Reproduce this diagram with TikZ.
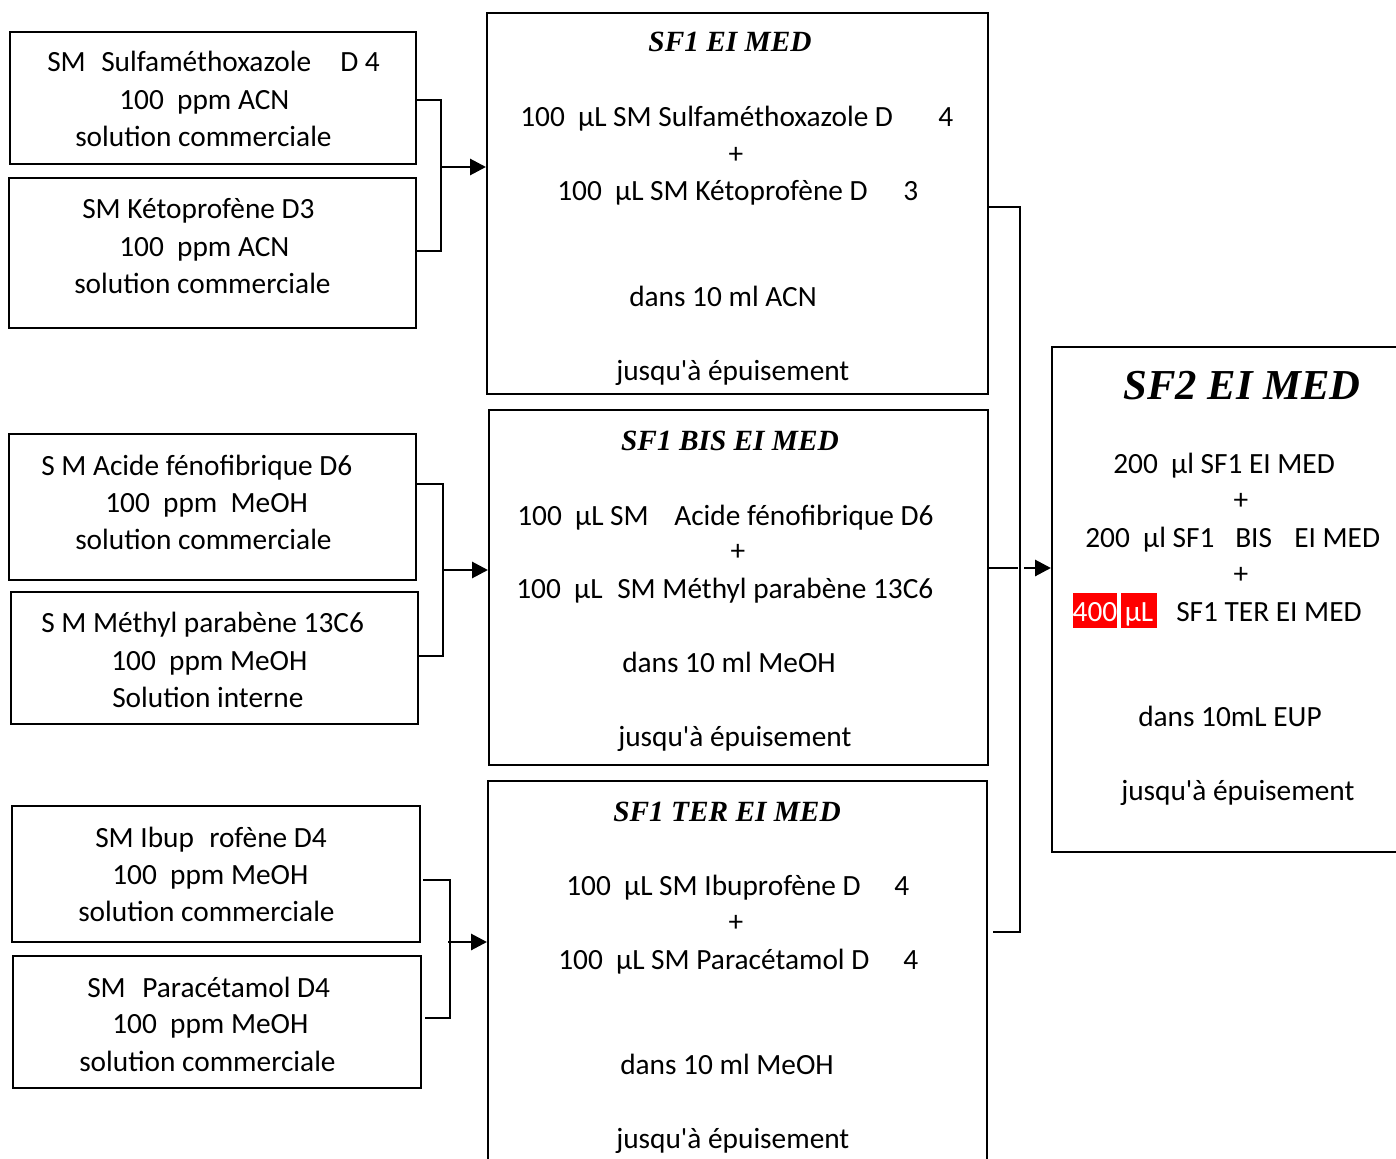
\documentclass[tikz,border=0pt]{standalone}
\usepackage{fontspec}
\setmainfont{Carlito}
\newfontfamily\ttlfont{Liberation Serif}
\usetikzlibrary{fit,arrows.meta}
\newcounter{tn}
\newcommand\T[3]{\stepcounter{tn}\node[txt,anchor=base west] (t\arabic{tn}) at (#1,#2) {#3};}
\newcommand\Tc[3]{\stepcounter{tn}\node[txt,anchor=center] (t\arabic{tn}) at (#1,#2) {#3};}
\newcommand\jusq{jusqu\textquotesingle à épuisement}
\tikzset{
  box/.style={draw, line width=1.5pt, inner sep=0pt},
  txt/.style={inner sep=0pt, font=\fontsize{22}{26}\selectfont},
  ttl/.style={inner sep=0pt, anchor=base, font=\ttlfont\bfseries\itshape\fontsize{22}{26}\selectfont},
  bigttl/.style={inner sep=0pt, anchor=base, font=\ttlfont\bfseries\itshape\fontsize{32}{36}\selectfont},
  brk/.style={line width=1.2pt},
  arr/.style={line width=2.2pt, -{Triangle[length=12pt,width=12pt]}},
  redbox/.style={fill=red, inner sep=0pt},
  redtxt/.style={text=white, inner sep=0pt, anchor=base, font=\fontsize{22}{26}\selectfont}
}
\begin{document}
\begin{tikzpicture}[x=0.75pt,y=-0.75pt]
\useasboundingbox (0,0) rectangle (1396,1159);
\clip (0,0) rectangle (1396,1159);
\fill[white] (0,0) rectangle (1396,1159);
% boxes
\node[box, fit={(10,32) (416,164)}] (A1) {};
\node[box, fit={(9,178) (416,328)}] (A2) {};
\node[box, fit={(487,13) (988,394)}] (SF1) {};
\node[box, fit={(9,434) (416,580)}] (B1) {};
\node[box, fit={(11,592) (418,724)}] (B2) {};
\node[box, fit={(489,410) (988,765)}] (BIS) {};
\node[box, fit={(12,806) (420,942)}] (C1) {};
\node[box, fit={(13,956) (421,1088)}] (C2) {};
\node[box, fit={(488,781) (987,1175)}] (TER) {};
\node[box, fit={(1052,347) (1410,852)}] (SF2) {};
% texts A1
\T{47}{72}{SM} \T{101}{72}{Sulfaméthoxazole} \T{340}{72}{D 4}
\T{119}{110}{100~~ppm ACN}
\T{75}{147}{solution commerciale}
% A2
\T{82}{219}{SM Kétoprofène D3}
\T{119}{256}{100~~ppm ACN}
\T{74}{293}{solution commerciale}
% SF1
\node[ttl] (ttl1) at (730,52) {SF1 EI MED};
\T{520}{127}{100~~µL SM Sulfaméthoxazole D} \T{938}{127}{4}
\Tc{736}{155}{+}
\T{557}{200}{100~~µL SM Kétoprofène D} \T{903}{200}{3}
\T{629}{306}{dans 10 ml ACN}
\T{616}{380}{\jusq}
% B1
\T{41}{475}{S M Acide fénofibrique D6}
\T{105}{512}{100~~ppm~~MeOH}
\T{75}{549}{solution commerciale}
% B2
\T{41}{632}{S M Méthyl parabène 13C6}
\T{111}{670}{100~~ppm MeOH}
\T{112}{707}{Solution interne}
% BIS
\node[ttl] (ttl2) at (730,450) {SF1 BIS EI MED};
\T{517}{525}{100~~µL SM} \T{674}{525}{Acide fénofibrique D6}
\Tc{738}{552}{+}
\T{516}{598}{100~~µL} \T{617}{598}{SM Méthyl parabène 13C6}
\T{622}{672}{dans 10 ml MeOH}
\T{618}{746}{\jusq}
% C1
\T{95}{847}{SM Ibup} \T{209}{847}{rofène D4}
\T{112}{884}{100~~ppm MeOH}
\T{78}{921}{solution commerciale}
% C2
\T{87}{997}{SM} \T{142}{997}{Paracétamol D4}
\T{112}{1033}{100~~ppm MeOH}
\T{79}{1071}{solution commerciale}
% TER
\node[ttl] (ttl3) at (727,821) {SF1 TER EI MED};
\T{566}{895}{100~~µL SM Ibuprofène D} \T{894}{895}{4}
\Tc{736}{923}{+}
\T{558}{969}{100~~µL SM Paracétamol D} \T{903}{969}{4}
\T{620}{1074}{dans 10 ml MeOH}
\T{616}{1148}{\jusq}
% SF2
\node[bigttl] (ttl4) at (1242,399) {SF2 EI MED};
\T{1113}{473}{200~~µl SF1 EI MED}
\Tc{1241}{501}{+}
\T{1085}{547}{200~~µl SF1} \T{1235}{547}{BIS} \T{1294}{547}{EI MED}
\Tc{1241}{575}{+}
\node[redbox, fit={(1073,593) (1117,628)}] (r1) {};
\node[redtxt] (r1t) at (r1.center |- 0,621) {400};
\node[redbox, fit={(1121,593) (1157,628)}] (r2) {};
\node[redtxt] (r2t) at (r2.center |- 0,621) {µL};
\T{1176}{621}{SF1 TER EI MED}
\T{1138}{726}{dans 10mL EUP}
\T{1121}{800}{\jusq}
% brackets
\coordinate (j1) at (441,167);
\draw[brk] (A1.east |- 0,100) -- (441,100) -- (441,251) -- (A2.east |- 0,251);
\draw[arr] (j1) -- (SF1.west |- j1);
\coordinate (j2) at (443,570);
\draw[brk] (B1.east |- 0,484) -- (443,484) -- (443,656) -- (B2.east |- 0,656);
\draw[arr] (j2) -- (BIS.west |- j2);
\coordinate (j3) at (448,942);
\draw[brk] (423,880) -- (450,880) -- (450,1019);
\draw[brk] (425,1018) -- (450,1018);
\draw[arr] (j3) -- (TER.west |- j3);
% big bracket
\draw[brk] (SF1.east |- 0,207) -- (1020,207) -- (1020,932) -- (993,932);
\draw[brk] (BIS.east |- 0,568) -- (1018,568);
\coordinate (j4) at (1024,568);
\draw[arr] (j4) -- (SF2.west |- j4);
\end{tikzpicture}
\end{document}
